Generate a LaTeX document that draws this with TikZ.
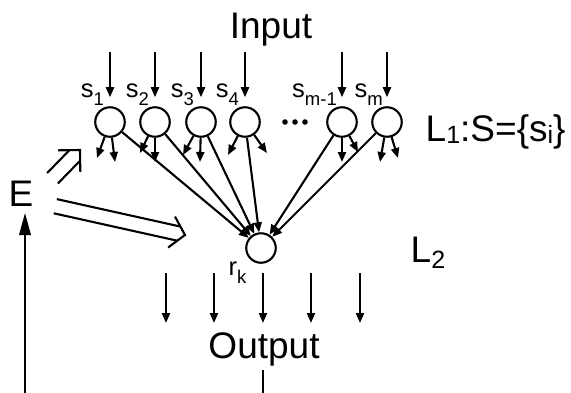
\documentclass[tikz,border=0pt]{standalone}
\usepackage{fontspec}
\setmainfont{Liberation Sans}
\usetikzlibrary{arrows.meta,calc}
\tikzset{
  lw/.style={line width=2.1pt},
  neuron/.style={circle,draw,line width=2.1pt,minimum size=29.5pt,inner sep=0pt},
  arr/.style={line width=2.1pt,-{Triangle[length=10pt,width=8pt]}},
  bigarr/.style={line width=2.1pt,-{Triangle[length=22pt,width=11.5pt]}},
  txt/.style={inner sep=0pt,font=\fontsize{37}{40}\selectfont},
  lab/.style={inner sep=0pt,anchor=base east},
  dbl/.style={line width=2.1pt},
}
\newcommand\slab[2]{{\fontsize{25.5}{28}\selectfont #1}\raisebox{-8pt}{\fontsize{18.5}{20}\selectfont #2}}
\newcommand\dblarrow[6]{%
  \path ($(#2)!#6!(#1)$) coordinate (dbP);
  \draw[dbl] ($(#1)!#3!90:(#2)$) -- ($(dbP)!#3!90:(#2)$);
  \draw[dbl] ($(#1)!#3!-90:(#2)$) -- ($(dbP)!#3!-90:(#2)$);
  \draw[dbl,line join=miter] ($(#2)!#4!#5:(#1)$) -- (#2) -- ($(#2)!#4!-#5:(#1)$);
}
\begin{document}
\begin{tikzpicture}[x=1pt,y=-1pt]
\useasboundingbox (0,0) rectangle (571,392);
% texts
\node[txt,anchor=base] (in) at (271,38.3) {Input};
\node[txt,anchor=base] (out) at (264,358) {Output};
\node[txt,anchor=base] (E) at (21,206) {E};
\node[inner sep=0pt,anchor=base west] (L1) at (425.5,141.7)
  {\fontsize{37}{40}\selectfont L\raisebox{-2pt}{\fontsize{25}{28}\selectfont 1}:S=\{s\raisebox{-2pt}{\fontsize{25}{28}\selectfont i}\}};
\node[inner sep=0pt,anchor=base west] (L2) at (410.5,262)
  {\fontsize{37}{40}\selectfont L\raisebox{-6pt}{\fontsize{25}{28}\selectfont 2}};
% neurons
\node[neuron] (c1) at (110,122) {};
\node[neuron] (c2) at (155,122) {};
\node[neuron] (c3) at (201,122) {};
\node[neuron] (c4) at (245,122) {};
\node[neuron] (c5) at (342,122) {};
\node[neuron] (c6) at (387,122) {};
\node[neuron] (rk) at (261,248) {};
\node[inner sep=0pt,anchor=base west] (rkl) at (228.5,275) {\slab{r}{k}};
% labels
\node[lab] (l1) at ($(c1)+(-6,-25)$) {\slab{s}{1}};
\node[lab] (l2) at ($(c2)+(-6,-25)$) {\slab{s}{2}};
\node[lab] (l3) at ($(c3)+(-7,-25)$) {\slab{s}{3}};
\node[lab] (l4) at ($(c4)+(-6,-25)$) {\slab{s}{4}};
\node[lab] (l5) at ($(c5)+(-5,-25)$) {\slab{s}{m-1}};
\node[lab] (l6) at ($(c6)+(-4,-25)$) {\slab{s}{m}};
% dots
\foreach \x in {285,295,305} \fill (\x,122) circle (2.8pt);
% input arrows
\foreach \c in {c1,c2,c3,c4,c5,c6}
  \draw[arr] ($(\c.north)+(0,-54)$) -- ($(\c.north)+(0,-9)$);
% short outgoing arrows
\draw[arr] (c1) -- ($(c1)+(-13,36)$);
\draw[arr] (c1) -- ($(c1)+(5,40)$);
\draw[arr] (c2) -- ($(c2)+(-15,31)$);
\draw[arr] (c2) -- ($(c2)+(0,40)$);
\draw[arr] (c3) -- ($(c3)+(-18,33)$);
\draw[arr] (c3) -- ($(c3)+(-1,40)$);
\draw[arr] (c4) -- ($(c4)+(-17,33)$);
\draw[arr] (c4) -- ($(c4)+(22,31)$);
\draw[arr] (c5) -- ($(c5)+(0,40)$);
\draw[arr] (c5) -- ($(c5)+(16,30)$);
\draw[arr] (c6) -- ($(c6)+(-7,40)$);
\draw[arr] (c6) -- ($(c6)+(11,36)$);
% connections to r_k
\foreach \c in {c1,c2,c3,c4,c5,c6}
  \draw[arr] (\c) -- (rk);
% output arrows
\foreach \x [count=\i] in {166,214,263,311,360} {
  \coordinate (o\i a) at (\x,273);
  \coordinate (o\i b) at (\x,323);
  \draw[arr] (o\i a) -- (o\i b);
}
% output line and feedback
\coordinate (ob) at (263,393);
\draw[lw] ($(out.base)+(-1,12)$) -- (ob);
\coordinate (fb) at (25,393);
\coordinate (et) at ($(E.base)+(4,7)$);
\draw[bigarr] (fb) -- (et);
% double arrows from E
\coordinate (u0) at (52.5,178.3);
\coordinate (u1) at (80,150);
\coordinate (w0) at (55.3,206.2);
\coordinate (w1) at (185,235);
\dblarrow{u0}{u1}{7.5pt}{22pt}{45}{7.5pt}
\dblarrow{w0}{w1}{7.25pt}{21pt}{49}{6.3pt}
\end{tikzpicture}
\end{document}
